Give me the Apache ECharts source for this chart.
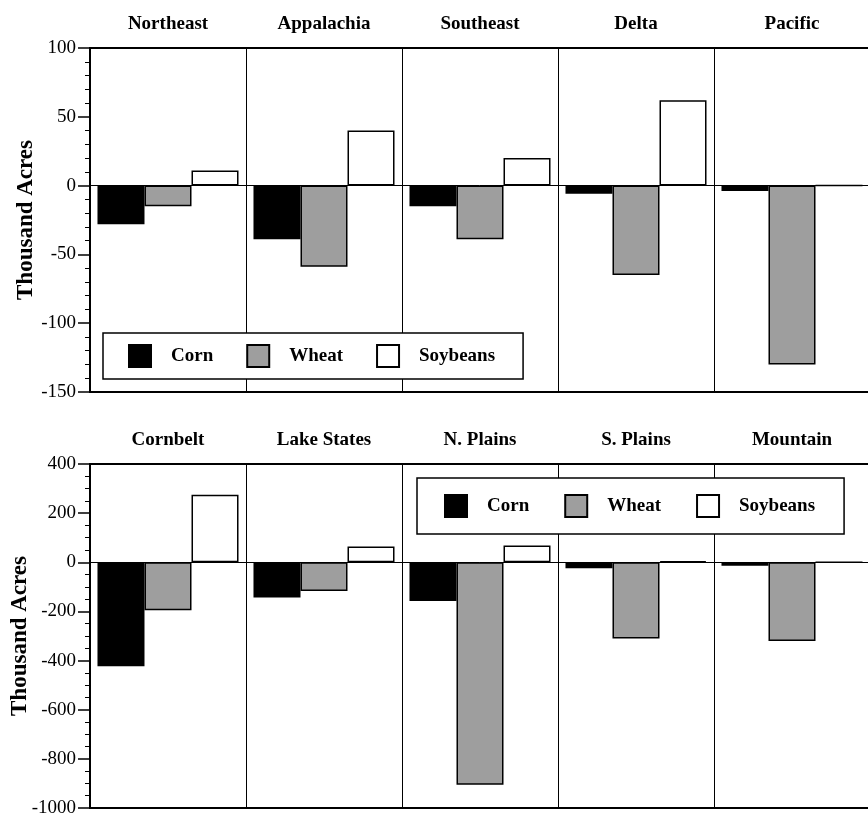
<!DOCTYPE html>
<html>
<head>
<meta charset="utf-8">
<script src="https://cdn.jsdelivr.net/npm/echarts@6/dist/echarts.min.js"></script>
<style>
  html, body { margin: 0; padding: 0; background: #fff; }
  #chart { width: 868px; height: 815px; }
</style>
</head>
<body>
<div id="chart"></div>
<script>
// top panel: regions and acreage change (thousand acres)
const regionsTop = ['Northeast', 'Appalachia', 'Southeast', 'Delta', 'Pacific'];
const cornTop = [-28, -39, -15, -6, -4];
const wheatTop = [-15, -59, -39, -65, -130];
const soyTop = [11, 40, 20, 62, 0];

// bottom panel
const regionsBottom = ['Cornbelt', 'Lake States', 'N. Plains', 'S. Plains', 'Mountain'];
const cornBottom = [-423, -143, -158, -24, -14];
const wheatBottom = [-195, -117, -905, -310, -320];
const soyBottom = [275, 64, 68, 5, 0];

const cropNames = ['Corn', 'Wheat', 'Soybeans'];

const serif = "'Liberation Serif', 'Times New Roman', serif";

const chart = echarts.init(document.getElementById('chart'));

const barStyle = [
    { color: '#000', borderColor: '#000', borderWidth: 1.5 },
    { color: '#9e9e9e', borderColor: '#000', borderWidth: 1.5 },
    { color: '#fff', borderColor: '#000', borderWidth: 1.5 }
];

function xAxisFor(regions, gridIndex) {
    return {
        type: 'category',
        gridIndex: gridIndex,
        position: 'top',
        data: regions,
        axisLine: { show: false },
        axisTick: { show: false },
        axisLabel: {
            margin: 14,
            color: '#000',
            fontFamily: serif,
            fontWeight: 'bold',
            fontSize: 19
        },
        splitLine: { show: true, lineStyle: { color: '#000', width: 1 } }
    };
}

function yAxisFor(gridIndex, min, max, interval, minorSplit, nameGap) {
    return {
        type: 'value',
        gridIndex: gridIndex,
        min: min,
        max: max,
        interval: interval,
        name: 'Thousand Acres',
        nameLocation: 'middle',
        nameRotate: 90,
        nameGap: nameGap,
        nameMoveOverlap: false,
        nameTextStyle: { color: '#000', fontFamily: serif, fontWeight: 'bold', fontSize: 23 },
        axisLine: { show: true, lineStyle: { color: '#000', width: 2 } },
        axisTick: { show: true, length: 12, lineStyle: { color: '#000', width: 1.5 } },
        minorTick: { show: true, splitNumber: minorSplit, length: 5, lineStyle: { color: '#000', width: 1 } },
        axisLabel: {
            margin: 14,
            color: '#000',
            fontFamily: serif,
            fontSize: 19,
            formatter: function (v) { return String(v); }
        },
        splitLine: { show: false }
    };
}

function seriesFor(values, idx, axisIndex) {
    return {
        name: cropNames[idx],
        type: 'bar',
        xAxisIndex: axisIndex,
        yAxisIndex: axisIndex,
        data: values,
        barGap: 0,
        barCategoryGap: '9.6%',
        itemStyle: barStyle[idx],
        emphasis: { disabled: true },
        markLine: idx === 0 ? {
            silent: true,
            symbol: ['none', 'none'],
            label: { show: false },
            lineStyle: { color: '#000', width: 1, type: 'solid' },
            data: [{ yAxis: 0 }]
        } : undefined
    };
}

function legendFor(left, top, padding, gap) {
    return {
        data: cropNames,
        left: left,
        top: top,
        orient: 'horizontal',
        padding: padding,
        itemGap: gap,
        itemWidth: 22,
        itemHeight: 22,
        icon: 'rect',
        borderColor: '#000',
        borderWidth: 1.5,
        backgroundColor: '#fff',
        selectedMode: false,
        textStyle: {
            color: '#000',
            fontFamily: serif,
            fontWeight: 'bold',
            fontSize: 19,
            padding: [0, 0, 0, 15]
        }
    };
}

const option = {
    animation: false,
    backgroundColor: '#fff',
    grid: [
        { left: 90, top: 48, width: 780, height: 344, outerBoundsMode: 'none', containLabel: false, show: true, borderColor: '#000', borderWidth: 2, backgroundColor: 'transparent' },
        { left: 90, top: 464, width: 780, height: 344, outerBoundsMode: 'none', containLabel: false, show: true, borderColor: '#000', borderWidth: 2, backgroundColor: 'transparent' }
    ],
    legend: [
        legendFor(103, 333, [11, 28, 11, 25], 33),
        legendFor(417, 478, [16, 29, 16, 27], 35)
    ],
    xAxis: [xAxisFor(regionsTop, 0), xAxisFor(regionsBottom, 1)],
    yAxis: [yAxisFor(0, -150, 100, 50, 5, 52), yAxisFor(1, -1000, 400, 200, 4, 58)],
    series: [
        seriesFor(cornTop, 0, 0),
        seriesFor(wheatTop, 1, 0),
        seriesFor(soyTop, 2, 0),
        seriesFor(cornBottom, 0, 1),
        seriesFor(wheatBottom, 1, 1),
        seriesFor(soyBottom, 2, 1)
    ]
};

chart.setOption(option);
</script>
</body>
</html>
